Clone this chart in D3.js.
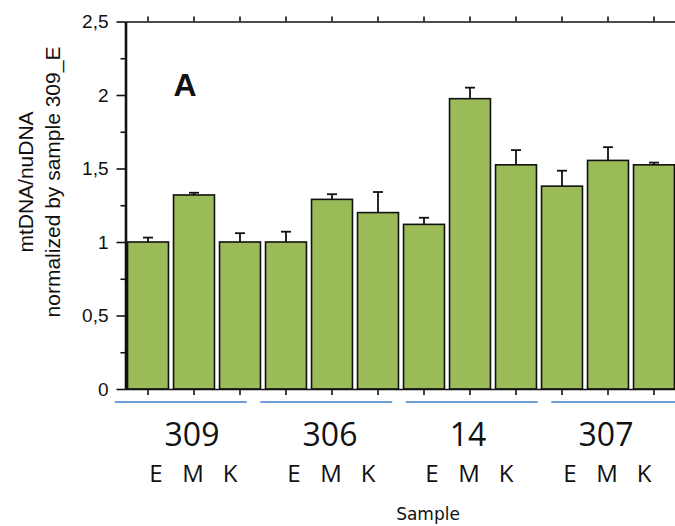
<!DOCTYPE html>
<html>
<head>
<meta charset="utf-8">
<script src="https://cdn.jsdelivr.net/npm/d3@7.9.0/dist/d3.min.js"></script>
<style>
  html, body { margin: 0; padding: 0; background: #fff; }
  svg { display: block; }
</style>
</head>
<body>
<svg id="chart" width="675" height="526"></svg>
<script>
// Data
const samples = ['309', '306', '14', '307'];
const tissues = ['E', 'M', 'K'];
// mean mtDNA/nuDNA per sample x tissue (in order E, M, K within each sample)
const means = [1.00, 1.32, 1.00, 1.00, 1.29, 1.20, 1.12, 1.975, 1.525, 1.38, 1.555, 1.525];
// upper error bar length
const errors = [0.03, 0.015, 0.06, 0.07, 0.035, 0.14, 0.045, 0.075, 0.10, 0.105, 0.09, 0.015];
const yMajor = [0, 0.5, 1, 1.5, 2, 2.5];
const yMinor = [0.25, 0.75, 1.25, 1.75, 2.25];

const bars = [];
samples.forEach((s) => tissues.forEach((t) => bars.push({ sample: s, tissue: t, key: `${s}-${t}` })));
bars.forEach((b, i) => { b.value = means[i]; b.err = errors[i]; });

const svg = d3.select('#chart');

// ── Scales ────────────────────────────────────────────────────────────────
const x = d3.scaleBand()
  .domain(bars.map((d) => d.key))
  .range([125, 677])
  .paddingInner(0.11)
  .paddingOuter(0.055);

const y = d3.scaleLinear().domain([0, 2.5]).range([389, 21.5]);

// group bracket scale (blue lines under the axis)
const g = d3.scaleBand()
  .domain(samples)
  .range([108, 690])
  .paddingInner(0.093)
  .paddingOuter(0.0465);

const comma = d3.formatLocale({ decimal: ',', thousands: '.', grouping: [3], currency: ['', ''] });
const fmt = (v) => comma.format('~g')(v);

// ── Bars ──────────────────────────────────────────────────────────────────
svg.append('g')
  .selectAll('rect')
  .data(bars)
  .join('rect')
  .attr('x', (d) => x(d.key))
  .attr('y', (d) => y(d.value))
  .attr('width', x.bandwidth())
  .attr('height', (d) => y(0) - y(d.value))
  .attr('fill', '#9bbb59')
  .attr('stroke', '#111')
  .attr('stroke-width', 1.6);

// error bars (upper only)
const eb = svg.append('g').attr('stroke', '#111').attr('stroke-width', 1.8);
bars.forEach((d) => {
  const cx = x(d.key) + x.bandwidth() / 2;
  eb.append('line')
    .attr('x1', cx).attr('x2', cx)
    .attr('y1', y(d.value)).attr('y2', y(d.value + d.err));
  eb.append('line')
    .attr('x1', cx - 5).attr('x2', cx + 5)
    .attr('y1', y(d.value + d.err)).attr('y2', y(d.value + d.err));
});

// ── Axes ──────────────────────────────────────────────────────────────────
const topAxis = svg.append('g')
  .attr('transform', `translate(0,${y(2.5)})`)
  .call(d3.axisTop(x).tickSize(5).tickSizeOuter(0).tickFormat(''));
topAxis.selectAll('path, line').attr('stroke', '#111').attr('stroke-width', 1.6);

const bottomAxis = svg.append('g')
  .attr('transform', `translate(0,${y(0)})`)
  .call(d3.axisBottom(x).tickSize(6).tickSizeOuter(0).tickFormat(''));
bottomAxis.selectAll('path, line').attr('stroke', '#111').attr('stroke-width', 1.6);

const leftAxis = svg.append('g')
  .attr('transform', 'translate(125.5,0)')
  .call(d3.axisLeft(y).tickValues(yMajor).tickSize(9).tickSizeOuter(0).tickPadding(8).tickFormat(fmt));
leftAxis.select('.domain').attr('stroke', '#111').attr('stroke-width', 2.6);
leftAxis.selectAll('line').attr('stroke', '#111').attr('stroke-width', 1.6);
leftAxis.selectAll('text')
  .attr('font-family', 'Liberation Sans, Arial, sans-serif')
  .attr('font-size', 19)
  .attr('fill', '#111');

svg.append('g')
  .attr('transform', 'translate(125.5,0)')
  .call(d3.axisLeft(y).tickValues(yMinor).tickSize(5).tickFormat(''))
  .call((a) => a.select('.domain').remove())
  .selectAll('line').attr('stroke', '#111').attr('stroke-width', 1.6);

// ── Group brackets and category labels ────────────────────────────────────
svg.append('g')
  .selectAll('line')
  .data(samples)
  .join('line')
  .attr('x1', (s) => g(s))
  .attr('x2', (s) => g(s) + g.bandwidth())
  .attr('y1', 402).attr('y2', 402)
  .attr('stroke', '#6f9fd8')
  .attr('stroke-width', 2);

const letterPos = d3.scalePoint().domain(tissues).range([-37, 37]);

samples.forEach((s) => {
  const cx = x(`${s}-M`) + x.bandwidth() / 2 - 2;
  svg.append('text')
    .attr('x', cx).attr('y', 446)
    .attr('text-anchor', 'middle')
    .attr('font-family', 'Open Sans, sans-serif')
    .attr('font-size', 32)
    .attr('fill', '#111')
    .text(s);
  tissues.forEach((t) => {
    svg.append('text')
      .attr('x', cx + letterPos(t) + 1).attr('y', 482)
      .attr('text-anchor', 'middle')
      .attr('font-family', 'Open Sans, sans-serif')
      .attr('font-size', 24)
      .attr('fill', '#111')
      .text(t);
  });
});

// ── Titles ────────────────────────────────────────────────────────────────
svg.append('text')
  .attr('x', 428).attr('y', 520)
  .attr('text-anchor', 'middle')
  .attr('font-family', 'DejaVu Sans, sans-serif')
  .attr('font-size', 17)
  .attr('fill', '#111')
  .text('Sample');

const yTitle = svg.append('text')
  .attr('transform', 'translate(0,182) rotate(-90)')
  .attr('text-anchor', 'middle')
  .attr('font-family', 'Liberation Sans, Arial, sans-serif')
  .attr('font-size', 21)
  .attr('fill', '#111');
yTitle.append('tspan').attr('x', 0).attr('y', 33).text('mtDNA/nuDNA');
yTitle.append('tspan').attr('x', 0).attr('y', 60).text('normalized by sample 309_E');

svg.append('text')
  .attr('x', 185).attr('y', 96)
  .attr('text-anchor', 'middle')
  .attr('font-family', 'Liberation Sans, Arial, sans-serif')
  .attr('font-weight', 'bold')
  .attr('font-size', 32)
  .attr('fill', '#111')
  .text('A');
</script>
</body>
</html>
